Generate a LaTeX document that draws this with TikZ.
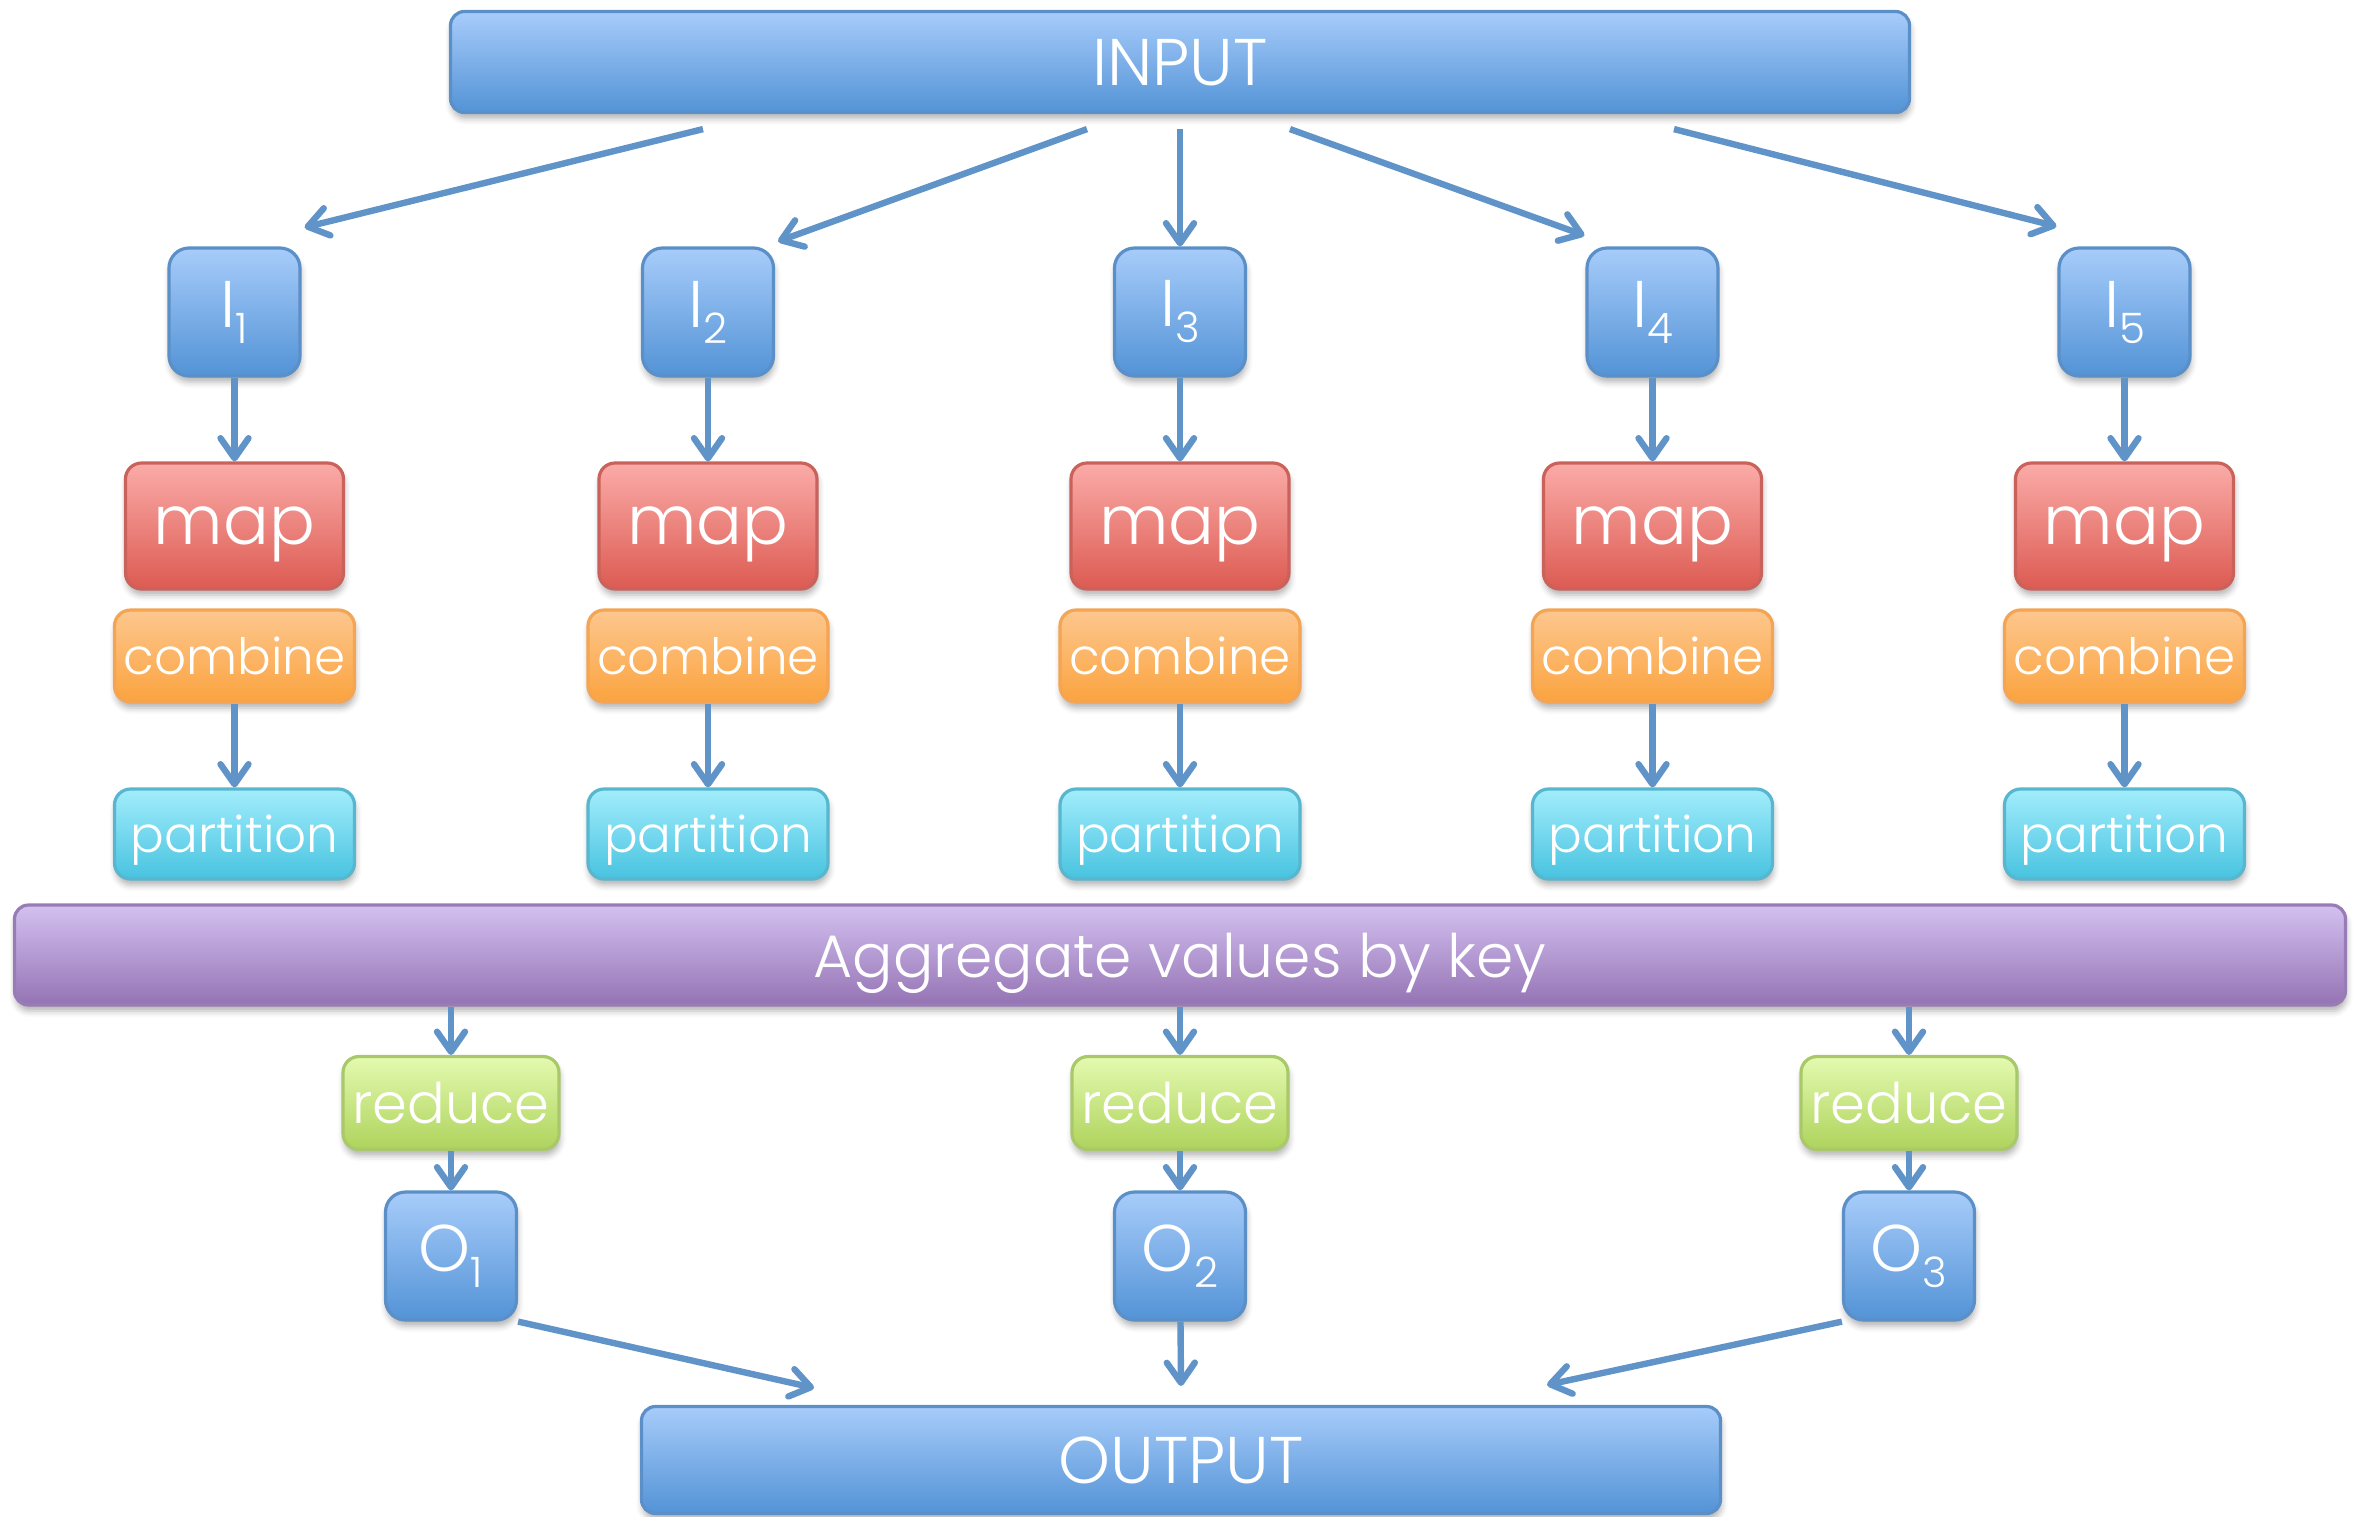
\documentclass[tikz,border=0pt]{standalone}
\usepackage{fontspec}
\setmainfont{Poppins}[UprightFont={* Light}]
\usetikzlibrary{arrows.meta,shadows.blur}

\definecolor{blueT}{HTML}{A7CCFA}
\definecolor{blueB}{HTML}{5393D6}
\definecolor{blueD}{HTML}{5B8FC7}
\definecolor{redT}{HTML}{FBABA8}
\definecolor{redB}{HTML}{DC5B52}
\definecolor{redD}{HTML}{C9625B}
\definecolor{orT}{HTML}{FDC78E}
\definecolor{orB}{HTML}{FBA33F}
\definecolor{orD}{HTML}{F4A452}
\definecolor{cyT}{HTML}{A2EDFC}
\definecolor{cyB}{HTML}{48C3E0}
\definecolor{cyD}{HTML}{58B6CE}
\definecolor{puT}{HTML}{D3C1F0}
\definecolor{puB}{HTML}{9573B4}
\definecolor{puD}{HTML}{987CB6}
\definecolor{grT}{HTML}{E4FAB0}
\definecolor{grB}{HTML}{AED35C}
\definecolor{grD}{HTML}{A8C86A}
\definecolor{lineC}{HTML}{6094C9}

\newcommand{\lowidx}[1]{\raisebox{-8pt}{\fontsize{21}{21}\selectfont #1}}

\begin{document}
\begin{tikzpicture}
[x=0.5pt,y=-0.5pt,
  boxdecorate/.style={draw,line width=1.6pt,rounded corners=8pt,inner sep=0pt,text=white,
    blur shadow={shadow xshift=0.5pt,shadow yshift=-3pt,shadow opacity=30,shadow blur radius=3pt}},
  barbox/.style={boxdecorate,draw=blueD,top color=blueT,bottom color=blueB,
    rounded corners=7pt,text depth=0pt,font=\fontsize{33}{33}\selectfont},
  splitbox/.style={boxdecorate,draw=blueD,top color=blueT,bottom color=blueB,
    rounded corners=10pt,minimum width=65.5pt,minimum height=64pt,font=\fontsize{33}{33}\selectfont},
  mapbox/.style={boxdecorate,draw=redD,top color=redT,bottom color=redB,text depth=0pt,
    minimum width=109pt,minimum height=63pt,font=\fontsize{34}{34}\selectfont},
  combbox/.style={boxdecorate,draw=orD,top color=orT,bottom color=orB,
    minimum width=120pt,minimum height=46pt,font=\fontsize{25}{25}\selectfont},
  partbox/.style={boxdecorate,draw=cyD,top color=cyT,bottom color=cyB,text depth=0pt,
    minimum width=120pt,minimum height=45pt,font=\fontsize{25}{25}\selectfont},
  aggbox/.style={boxdecorate,draw=puD,top color=puT,bottom color=puB,text depth=0pt,
    rounded corners=7pt,font=\fontsize{30}{30}\selectfont},
  redbox/.style={boxdecorate,draw=grD,top color=grT,bottom color=grB,
    minimum width=108pt,minimum height=46.5pt,font=\fontsize{28}{28}\selectfont},
  linedecorate/.style={draw=lineC,line width=3.2pt,-{Straight Barb[length=10pt,width=14pt,round]}}]
\useasboundingbox (0,0) rectangle (2357,1516);
%% bars
\node (input) at (1180,62) [barbox,minimum width=729.5pt,minimum height=50.5pt] {INPUT};
\node (agg) at (1180,955) [aggbox,minimum width=1165.5pt,minimum height=50pt] {Aggregate values by key};
\node (output) at (1181,1460) [barbox,minimum width=539.5pt,minimum height=53.5pt] {OUTPUT};
%% map side, one column per split
\foreach \nodename/\x in {1/234.5, 2/708, 3/1180, 4/1652.5, 5/2124.5}
{
  \node (i\nodename) at (\x,312) [splitbox] {I\lowidx{\nodename}};
  \node (map\nodename) at (\x,526) [mapbox] {map};
  \node (comb\nodename) at (\x,656) [combbox] {combine};
  \node (part\nodename) at (\x,834) [partbox] {partition};
}
%% reduce side
\foreach \nodename/\x in {1/451, 2/1180, 3/1909}
{
  \node (red\nodename) at (\x,1103) [redbox] {reduce};
  \node (o\nodename) at (\x,1256) [splitbox] {O\lowidx{\nodename}};
}
%% arrows out of the input bar
\foreach \nodename/\dx in {1/-238.5, 2/-46.5, 3/0, 4/55, 5/247}
{
  \coordinate (from\nodename) at ([xshift=\dx pt,yshift=-7.5pt]input.south);
}
\draw[linedecorate] (from1) -- ([xshift=1.5pt,yshift=9.5pt]i1.north east);
\draw[linedecorate] (from2) -- ([xshift=1.5pt,yshift=2.5pt]i2.north east);
\draw[linedecorate] (from3) -- (i3);
\draw[linedecorate] (from4) -- ([xshift=-0.5pt,yshift=5.5pt]i4.north west);
\draw[linedecorate] (from5) -- ([xshift=-0.5pt,yshift=10pt]i5.north west);
%% arrows inside the columns
\path
\foreach \startnode/\endnode in {i1/map1, i2/map2, i3/map3, i4/map4, i5/map5,
  comb1/part1, comb2/part2, comb3/part3, comb4/part4, comb5/part5,
  red1/o1, red2/o2, red3/o3}
{
  (\startnode) edge[linedecorate] (\endnode)
};
\path
\foreach \endnode in {red1, red2, red3}
{
  (agg.south -| \endnode) edge[linedecorate] (\endnode)
};
%% arrows into the output bar
\draw[linedecorate] (o1.south east) -- ([xshift=-183.5pt,yshift=8.5pt]output.north);
\draw[linedecorate] (o2) -- ([yshift=9.5pt]output.north);
\draw[linedecorate] (o3.south west) -- ([xshift=183pt,yshift=10pt]output.north);
\end{tikzpicture}
\end{document}
